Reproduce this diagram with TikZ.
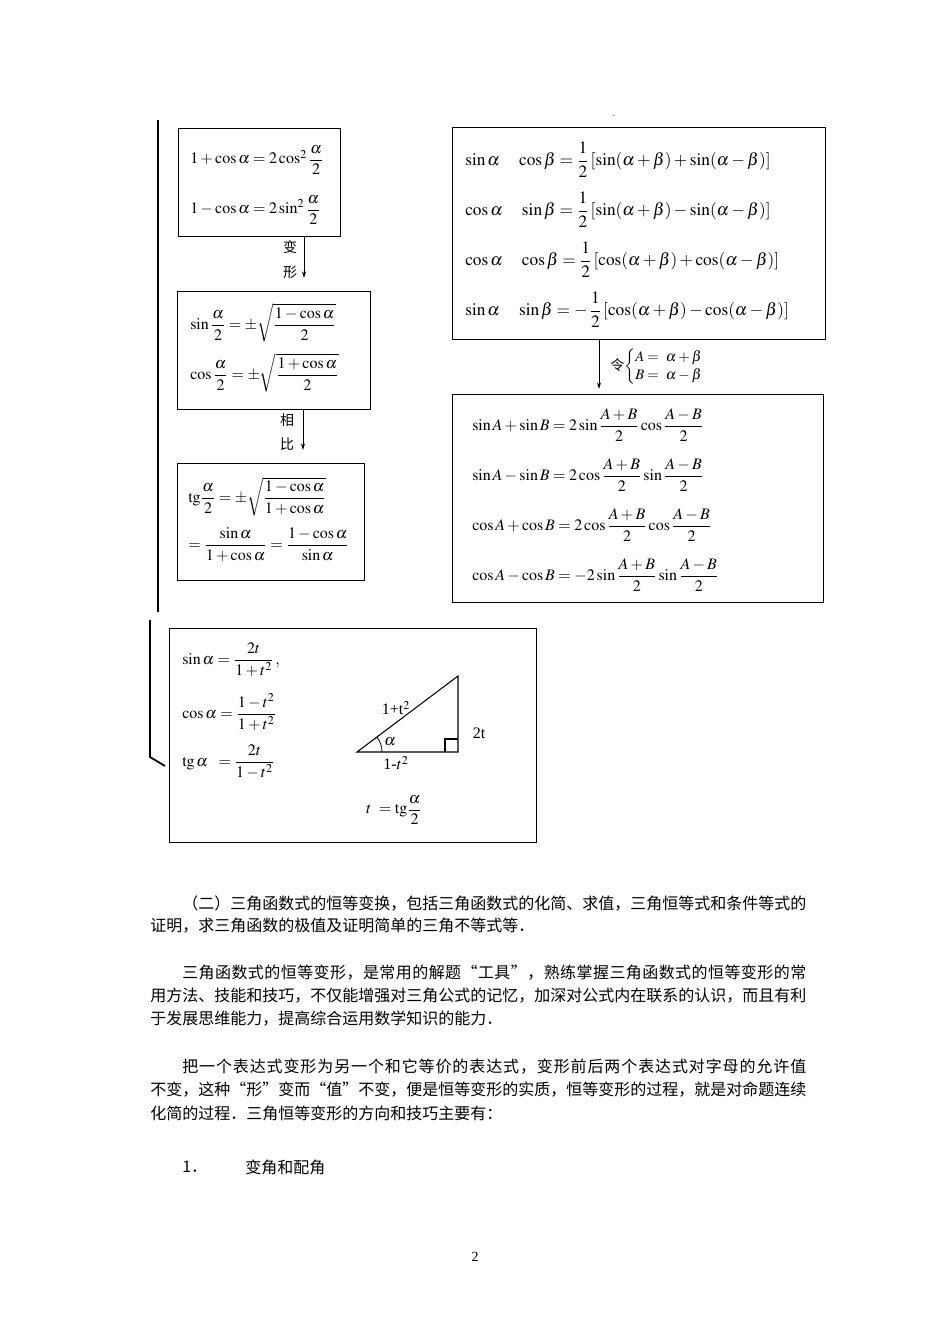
\documentclass[tikz,border=0pt]{standalone}
\usepackage{amsmath}
\usepackage{mathptmx}
\usepackage{fontspec}
\setmainfont{Liberation Serif}
\newfontfamily\cjk{Noto Sans CJK SC}
\usetikzlibrary{arrows.meta}
\newcommand{\px}{0.75pt}
% spread the characters of one line over a given width
\def\spreadfirst#1{#1\spreadrest}
\def\spreadrest#1{\ifx\relax#1\else\hfil#1\expandafter\spreadrest\fi}
\newcommand{\justline}[2]{\hbox to #1{\spreadfirst#2\relax}}
\tikzset{
    boxframe/.style={draw, line width=0.9pt, anchor=north west, inner sep=0pt},
    eqn/.style={anchor=west, inner sep=0pt, font=\fontsize{12}{14}\selectfont},
    bigeqn/.style={eqn, font=\fontsize{13}{15}\selectfont},
    cjknote/.style={inner sep=0pt, font=\cjk\fontsize{10.5}{12}\selectfont},
    textline/.style={anchor=west, inner sep=0pt, font=\cjk\fontsize{12}{14}\selectfont},
    flow/.style={-{Stealth[length=5pt,width=3pt]}, line width=0.6pt},
    bracket/.style={line width=1.3pt}
}
\begin{document}
\begin{tikzpicture}[x=\px, y=-\px]
    \useasboundingbox (0,0) rectangle (950,1344);

    % left brackets
    \draw[bracket] (158,120) -- (158,612);
    \draw[bracket] (150,620) -- (150,757) -- (165,766);
    \node[inner sep=0pt, font=\scriptsize] (dot) at (614,116) {.};

    % half angle chain
    \node[boxframe, minimum width=162*\px, minimum height=108*\px] (halfA) at (178,128) {};
    \node[eqn] (fa1) at (190,160) {$1+\cos\alpha=2\cos^2\dfrac{\alpha}{2}$};
    \node[eqn] (fa2) at (190,210) {$1-\cos\alpha=2\sin^2\dfrac{\alpha}{2}$};

    \node[boxframe, minimum width=193*\px, minimum height=118*\px] (halfB) at (177,291) {};
    \node[eqn] (fb1) at (190,323) {$\sin\dfrac{\alpha}{2}=\pm\sqrt{\dfrac{1-\cos\alpha}{2}}$};
    \node[eqn] (fb2) at (190,373) {$\cos\dfrac{\alpha}{2}=\pm\sqrt{\dfrac{1+\cos\alpha}{2}}$};

    \node[boxframe, minimum width=187*\px, minimum height=117*\px] (halfC) at (177,463) {};
    \node[eqn] (fc1) at (188,497) {$\mathrm{tg}\dfrac{\alpha}{2}=\pm\sqrt{\dfrac{1-\cos\alpha}{1+\cos\alpha}}$};
    \node[eqn] (fc2) at (188,545) {$=\dfrac{\sin\alpha}{1+\cos\alpha}=\dfrac{1-\cos\alpha}{\sin\alpha}$};

    \coordinate (colA) at (304,0);
    \coordinate (colB) at (303,0);
    \draw[flow, shorten >=9.75pt] (halfA.south -| colA) -- (halfB.north -| colA);
    \draw[flow, shorten >=9.75pt] (halfB.south -| colB) -- (halfC.north -| colB);
    \node[cjknote] (chg1) at (290,247) {变};
    \node[cjknote] (chg2) at (290,272) {形};
    \node[cjknote] (rat1) at (287,420) {相};
    \node[cjknote] (rat2) at (287,444) {比};

    % product to sum
    \node[boxframe, minimum width=373*\px, minimum height=212*\px] (prod) at (452,127) {};
    \node[bigeqn] (fd1) at (465,160) {$\sin\alpha\quad\cos\beta=\dfrac{1}{2}\,[\sin(\alpha+\beta)+\sin(\alpha-\beta)]$};
    \node[bigeqn] (fd2) at (465,210) {$\cos\alpha\quad\sin\beta=\dfrac{1}{2}\,[\sin(\alpha+\beta)-\sin(\alpha-\beta)]$};
    \node[bigeqn] (fd3) at (465,260) {$\cos\alpha\quad\cos\beta=\dfrac{1}{2}\,[\cos(\alpha+\beta)+\cos(\alpha-\beta)]$};
    \node[bigeqn] (fd4) at (465,310) {$\sin\alpha\quad\sin\beta=-\,\dfrac{1}{2}\,[\cos(\alpha+\beta)-\cos(\alpha-\beta)]$};

    \node[boxframe, minimum width=371*\px, minimum height=208*\px] (sum) at (452,394) {};
    \node[eqn] (fe1) at (472,425) {$\sin A+\sin B=2\sin\dfrac{A+B}{2}\cos\dfrac{A-B}{2}$};
    \node[eqn] (fe2) at (472,475) {$\sin A-\sin B=2\cos\dfrac{A+B}{2}\sin\dfrac{A-B}{2}$};
    \node[eqn] (fe3) at (472,525) {$\cos A+\cos B=2\cos\dfrac{A+B}{2}\cos\dfrac{A-B}{2}$};
    \node[eqn] (fe4) at (472,575) {$\cos A-\cos B=-2\sin\dfrac{A+B}{2}\sin\dfrac{A-B}{2}$};

    \coordinate (colC) at (599,0);
    \draw[flow, shorten >=3.75pt] (prod.south -| colC) -- (sum.north -| colC);
    \node[anchor=west, inner sep=0pt] (subst) at (610,367)
        {{\cjk\fontsize{10.5}{12}\selectfont 令}\fontsize{11}{13}\selectfont$\left\{\begin{array}{@{}l@{}}A=\ \alpha+\beta\\ B=\ \alpha-\beta\end{array}\right.$};

    % universal substitution
    \node[boxframe, minimum width=367*\px, minimum height=214*\px] (univ) at (169,628) {};
    \node[eqn] (ff1) at (182,660) {$\sin\alpha=\dfrac{2t}{1+t^2}\,,$};
    \node[eqn] (ff2) at (182,712) {$\cos\alpha=\dfrac{1-t^2}{1+t^2}$};
    \node[eqn] (ff3) at (182,762) {$\mathrm{tg}\,\alpha\;\;=\dfrac{2t}{1-t^2}$};
    \node[eqn] (ff4) at (366,810) {$t\ =\mathrm{tg}\dfrac{\alpha}{2}$};

    \coordinate (triA) at (357,752);
    \coordinate (triB) at (458,752);
    \coordinate (triC) at (458,676);
    \draw[line width=0.8pt] (triA) -- (triB) -- (triC) -- cycle;
    \draw[line width=0.8pt] (445,752) |- (458,739);
    \draw[line width=0.6pt] (382,752) arc[start angle=0, end angle=-37, radius=25];
    \node[inner sep=0pt, font=\fontsize{12}{14}\selectfont] (hyp) at (396,708) {1+t$^2$};
    \node[inner sep=0pt, font=\fontsize{12}{14}\selectfont] (ang) at (390,742) {$\alpha$};
    \node[inner sep=0pt, font=\fontsize{12}{14}\selectfont] (base) at (396,763) {1-$t^2$};
    \node[inner sep=0pt, font=\fontsize{12}{14}\selectfont] (side) at (479,733) {2t};

    % text below
    \node[textline] (p1a) at (182,903) {\justline{468pt}{（二）三角函数式的恒等变换，包括三角函数式的化简、求值，三角恒等式和条件等式的}};
    \node[textline] (p1b) at (150,926) {证明，求三角函数的极值及证明简单的三角不等式等．};
    \node[textline] (p2a) at (182,973) {\justline{468pt}{三角函数式的恒等变形，是常用的解题“工具”，熟练掌握三角函数式的恒等变形的常}};
    \node[textline] (p2b) at (150,996) {\justline{492pt}{用方法、技能和技巧，不仅能增强对三角公式的记忆，加深对公式内在联系的认识，而且有利}};
    \node[textline] (p2c) at (150,1019) {于发展思维能力，提高综合运用数学知识的能力．};
    \node[textline] (p3a) at (182,1067) {\justline{468pt}{把一个表达式变形为另一个和它等价的表达式，变形前后两个表达式对字母的允许值}};
    \node[textline] (p3b) at (150,1090) {\justline{492pt}{不变，这种“形”变而“值”不变，便是恒等变形的实质，恒等变形的过程，就是对命题连续}};
    \node[textline] (p3c) at (150,1113) {化简的过程．三角恒等变形的方向和技巧主要有：};
    \node[textline] (item) at (182,1167) {1．};
    \node[textline] (itemtext) at (245,1167) {变角和配角};
    \node[inner sep=0pt, font=\fontsize{10.5}{12}\selectfont] (page) at (475,1257) {2};
\end{tikzpicture}
\end{document}
